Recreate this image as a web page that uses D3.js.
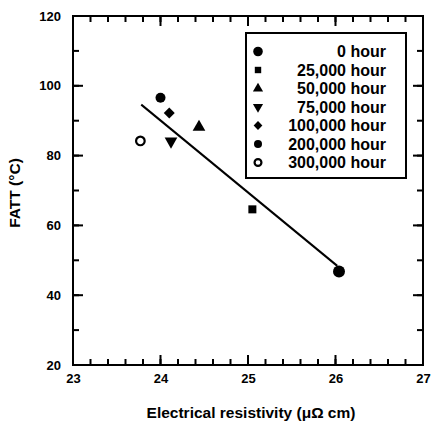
<!doctype html>
<html>
<head>
<meta charset="utf-8">
<style>
  body { margin: 0; background: #fff; }
  text { font-family: "Liberation Sans", Arial, sans-serif; fill: #000; }
</style>
<script src="https://d3js.org/d3.v7.min.js"></script>
</head>
<body>
<svg width="433" height="427"></svg>
<script>
// data
var series = ["0 hour", "25,000 hour", "50,000 hour", "75,000 hour", "100,000 hour", "200,000 hour", "300,000 hour"];
var symbols = ["circle", "square", "triangle", "triangleDown", "diamond", "circleSmall", "circleOpen"];
var resistivity = [26.04, 25.05, 24.44, 24.12, 24.10, 24.00, 23.77];
var fatt = [46.8, 64.6, 88.2, 84.1, 92.2, 96.6, 84.2];
var fitX = [23.78, 26.02];
var fitY = [94.6, 48.4];
var xTicks = [23, 24, 25, 26, 27];
var yTicks = [20, 40, 60, 80, 100, 120];

var svg = d3.select("svg");
var plotL = 73, plotR = 423, plotT = 16, plotB = 365;

var x = d3.scaleLinear().domain([23, 27]).range([plotL, plotR]);
var y = d3.scaleLinear().domain([20, 120]).range([plotB, plotT]);

var minorX = d3.range(1, 20).map(function(i) { return 23 + i * 0.2; });
var minorY = d3.range(1, 10).map(function(i) { return 20 + i * 10; });

// frame
svg.append("rect")
    .attr("x", plotL).attr("y", plotT)
    .attr("width", plotR - plotL).attr("height", plotB - plotT)
    .attr("fill", "none").attr("stroke", "#000").attr("stroke-width", 2);

// inward ticks on all four sides, drawn as thin filled rects
var tickG = svg.append("g").attr("fill", "#000");
function xTickMarks(values, len) {
    tickG.selectAll(null).data(values).enter().append("rect")
        .attr("x", function(d) { return x(d) - 1; })
        .attr("y", plotB - len).attr("width", 2).attr("height", len);
    tickG.selectAll(null).data(values).enter().append("rect")
        .attr("x", function(d) { return x(d) - 1; })
        .attr("y", plotT).attr("width", 2).attr("height", len);
}
function yTickMarks(values, len) {
    tickG.selectAll(null).data(values).enter().append("rect")
        .attr("y", function(d) { return y(d) - 1; })
        .attr("x", plotL).attr("height", 2).attr("width", len);
    tickG.selectAll(null).data(values).enter().append("rect")
        .attr("y", function(d) { return y(d) - 1; })
        .attr("x", plotR - len).attr("height", 2).attr("width", len);
}
xTickMarks(minorX, 6);
xTickMarks(xTicks, 10);
yTickMarks(minorY, 6);
yTickMarks(yTicks, 10);

// tick labels
var xl = svg.append("g")
    .attr("transform", "translate(0," + plotB + ")")
    .call(d3.axisBottom(x).tickValues(xTicks).tickSize(0).tickPadding(9).tickFormat(d3.format("d")));
xl.select(".domain").remove();
xl.selectAll("text").attr("font-size", 13).attr("font-weight", "bold")
    .style("font-family", "Liberation Sans, Arial, sans-serif");

var yl = svg.append("g")
    .attr("transform", "translate(" + plotL + ",0)")
    .call(d3.axisLeft(y).tickValues(yTicks).tickSize(0).tickPadding(12).tickFormat(d3.format("d")));
yl.select(".domain").remove();
yl.selectAll("text").attr("font-size", 13).attr("font-weight", "bold")
    .style("font-family", "Liberation Sans, Arial, sans-serif");

// axis titles
svg.append("text")
    .attr("x", 251).attr("y", 418)
    .attr("text-anchor", "middle")
    .attr("font-size", 15.5).attr("font-weight", "bold")
    .text("Electrical resistivity (\u03bc\u03a9 cm)");

svg.append("text")
    .attr("transform", "translate(20,193) rotate(-90)")
    .attr("text-anchor", "middle")
    .attr("font-size", 15.5).attr("font-weight", "bold")
    .text("FATT (\u00b0C)");

// regression line
svg.append("line")
    .attr("x1", x(fitX[0])).attr("y1", y(fitY[0]))
    .attr("x2", x(fitX[1])).attr("y2", y(fitY[1]))
    .attr("stroke", "#000").attr("stroke-width", 2);

function drawSymbol(g, kind, s) {
    if (kind == "circle") {
        g.append("circle").attr("r", 6 * s).attr("fill", "#000");
    } else if (kind == "circleSmall") {
        g.append("circle").attr("r", 5 * s).attr("fill", "#000");
    } else if (kind == "circleOpen") {
        g.append("circle").attr("r", 4.3 * s).attr("fill", "#fff")
            .attr("stroke", "#000").attr("stroke-width", 2.2);
    } else if (kind == "square") {
        g.append("rect").attr("x", -4 * s).attr("y", -4 * s)
            .attr("width", 8 * s).attr("height", 8 * s).attr("fill", "#000");
    } else if (kind == "triangle") {
        g.append("path").attr("d", d3.symbol(d3.symbolTriangle, 70 * s * s)).attr("fill", "#000");
    } else if (kind == "triangleDown") {
        g.append("path").attr("d", d3.symbol(d3.symbolTriangle, 70 * s * s))
            .attr("transform", "rotate(180)").attr("fill", "#000");
    } else if (kind == "diamond") {
        g.append("path").attr("d", d3.symbol(d3.symbolSquare, 60 * s * s))
            .attr("transform", "rotate(45)").attr("fill", "#000");
    }
}

// points
series.forEach(function(name, i) {
    var g = svg.append("g")
        .attr("transform", "translate(" + x(resistivity[i]) + "," + y(fatt[i]) + ")");
    drawSymbol(g, symbols[i], 1);
});

// legend
var legend = svg.append("g");
legend.append("rect")
    .attr("x", 246).attr("y", 33)
    .attr("width", 160).attr("height", 145)
    .attr("fill", "#fff").attr("stroke", "#000").attr("stroke-width", 2);

series.forEach(function(name, i) {
    var ly = 51.5 + i * 18.5;
    var g = legend.append("g").attr("transform", "translate(258," + ly + ")");
    drawSymbol(g, symbols[i], 0.8);
    legend.append("text")
        .attr("x", 386).attr("y", ly)
        .attr("dy", "0.36em")
        .attr("text-anchor", "end")
        .attr("font-size", 16).attr("font-weight", "bold")
        .text(name);
});
</script>
</body>
</html>
